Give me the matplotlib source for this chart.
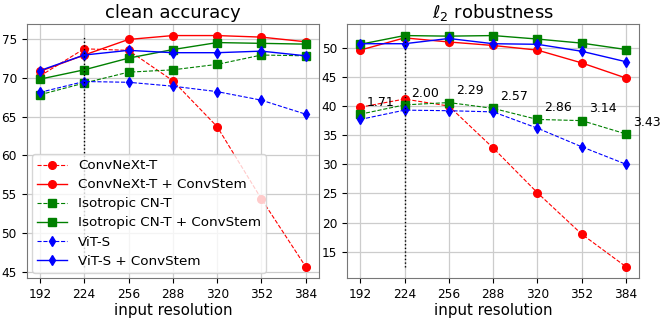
import matplotlib
matplotlib.use("Agg")
from matplotlib import pyplot as plt

res = [192, 224, 256, 288, 320, 352, 384]

# clean accuracy
acc_cnx = [70.2, 73.7, 73.5, 69.6, 63.7, 54.4, 45.7]
acc_cnx_cs = [70.8, 72.9, 74.9, 75.4, 75.4, 75.2, 74.6]
acc_iso = [67.8, 69.3, 70.7, 71.0, 71.7, 72.9, 72.8]
acc_iso_cs = [69.8, 71.0, 72.5, 73.6, 74.5, 74.4, 74.3]
acc_vit = [68.1, 69.5, 69.4, 68.9, 68.2, 67.1, 65.3]
acc_vit_cs = [70.9, 72.9, 73.5, 73.2, 73.2, 73.4, 72.8]

# l2 robustness
rob_cnx = [39.8, 41.2, 40.0, 32.8, 25.1, 18.0, 12.4]
rob_cnx_cs = [49.6, 51.7, 51.0, 50.4, 49.6, 47.4, 44.8]
rob_iso = [38.6, 40.2, 40.6, 39.6, 37.7, 37.5, 35.2]
rob_iso_cs = [50.6, 52.1, 52.0, 52.1, 51.5, 50.8, 49.7]
rob_vit = [37.7, 39.3, 39.2, 39.0, 36.2, 33.0, 30.0]
rob_vit_cs = [50.7, 50.7, 51.6, 50.7, 50.6, 49.4, 47.6]

eps_labels = ["1.71", "2.00", "2.29", "2.57", "2.86", "3.14", "3.43"]

names = ["ConvNeXt-T", "ConvNeXt-T + ConvStem", "Isotropic CN-T",
         "Isotropic CN-T + ConvStem", "ViT-S", "ViT-S + ConvStem"]
colors = ["red", "red", "green", "green", "blue", "blue"]
markers = ["o", "o", "s", "s", "d", "d"]
styles = ["--", "-", "--", "-", "--", "-"]

fig, axes = plt.subplots(1, 2, figsize=(6.64, 3.2), dpi=100)
panels = [
    (axes[0], "clean accuracy", [acc_cnx, acc_cnx_cs, acc_iso, acc_iso_cs, acc_vit, acc_vit_cs]),
    (axes[1], r"$\ell_2$ robustness", [rob_cnx, rob_cnx_cs, rob_iso, rob_iso_cs, rob_vit, rob_vit_cs]),
]

for ax, title, series in panels:
    for ys, name, c, m, ls in zip(series, names, colors, markers, styles):
        lw = 0.8 if ls == "--" else 1.0
        ax.plot(res, ys, ls, color=c, marker=m, markersize=5.5, linewidth=lw, label=name)
    lo = min(min(s) for s in series)
    hi = max(max(s) for s in series)
    ax.vlines(224, lo, hi, colors="black", linestyles=":", linewidth=1)
    ax.set_title(title, fontsize=13, pad=4)
    ax.set_xlabel("input resolution", fontsize=10.8, labelpad=1)
    ax.set_xticks(res)
    ax.tick_params(labelsize=8.7, colors="black")
    ax.grid(True, color="#cccccc", linewidth=0.9)
    ax.set_axisbelow(True)
    for sp in ax.spines.values():
        sp.set_color("#777777")

for x, y, lab in zip(res, rob_iso, eps_labels):
    axes[1].text(x + 5, y + 2.0, lab, fontsize=9, va="center", ha="left")

axes[0].legend(loc="lower left", fontsize=9.7, handlelength=2.2,
               borderaxespad=0.4, labelspacing=0.45)

fig.subplots_adjust(left=0.04, right=0.963, top=0.925, bottom=0.13, wspace=0.095)
fig.savefig("out.png", dpi=100)
